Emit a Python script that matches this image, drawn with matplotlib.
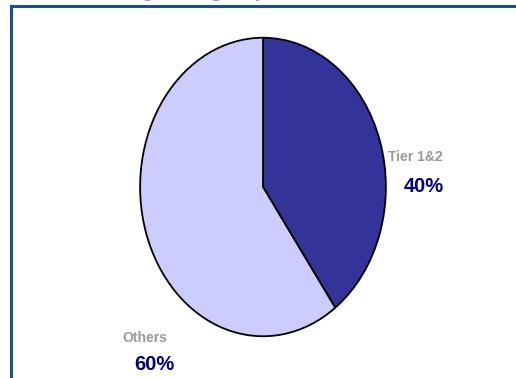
import matplotlib.pyplot as plt
from matplotlib.lines import Line2D

W, H = 516, 378

segments = ['Tier 1&2', 'Others']
shares = [40, 60]
slice_colors = ['#333399', '#CCCCFF']
title = 'Sourcing from group level'

plt.rcParams['font.family'] = ['Liberation Sans', 'DejaVu Sans']

fig = plt.figure(figsize=(W / 100, H / 100), dpi=100)

def px(x, y):
    # pixel position (from top-left) to figure fraction
    return x / W, 1 - y / H

# pie stretched into an ellipse
ax = fig.add_axes([139.5 / W, (H - 337) / H, 247 / W, 300 / H])
ax.pie(shares, colors=slice_colors, startangle=90, counterclock=False,
       wedgeprops=dict(edgecolor='black', linewidth=1.3))
ax.set_aspect('auto')
ax.set_xlim(-1.005, 1.005)
ax.set_ylim(-1.005, 1.005)
ax.axis('off')

# frame lines along the top and left
frame = '#1F4E8C'
fig.add_artist(Line2D([11 / W, 1], [1 - 6 / H, 1 - 6 / H], color=frame, lw=2.2,
                      transform=fig.transFigure))
fig.add_artist(Line2D([11 / W, 11 / W], [0, 1 - 6 / H], color=frame, lw=2.2,
                      transform=fig.transFigure))

# title sits above the canvas, only descenders reach in
fig.text(67 / W, 1 + 3 / H, title, fontsize=14.5, fontweight='bold',
         color='#999999', ha='left', va='baseline')

# labels
label_pos = {'Tier 1&2': ((415, 157), (424, 187)),
             'Others': ((145, 338), (154, 364))}
for name, v in zip(segments, shares):
    (lx, ly), (vx, vy) = label_pos[name]
    fig.text(*px(lx, ly), name, fontsize=10, fontweight='bold',
             color='#999999', ha='center', va='center')
    fig.text(*px(vx, vy), f'{v}%', fontsize=14.5, fontweight='bold',
             color='#000080', ha='center', va='center')

fig.savefig('out.png', dpi=100)
